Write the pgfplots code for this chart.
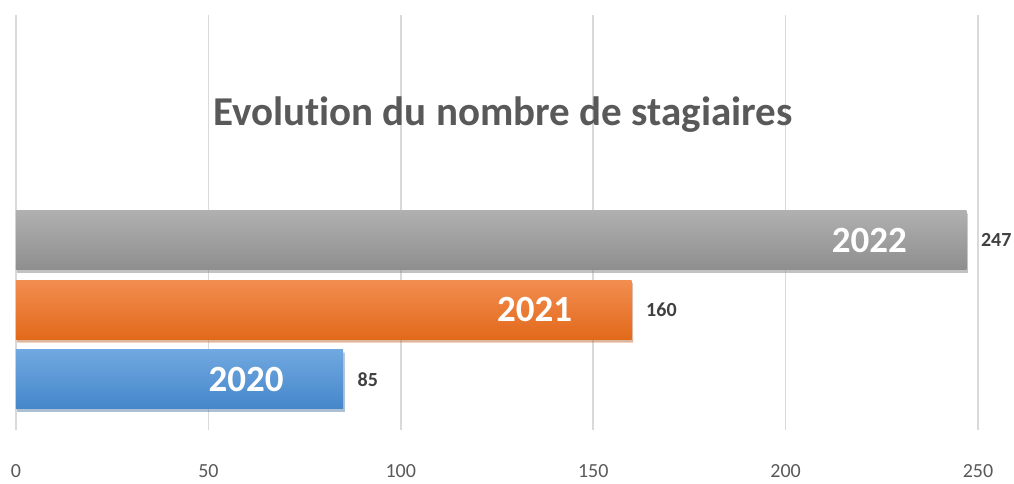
\documentclass[border=0pt]{standalone}
\usepackage{fontspec}
\setmainfont{Carlito}[Ligatures=NoCommon]
\usepackage{pgfplots}
\pgfplotsset{compat=1.18}
\usetikzlibrary{shadows}
\definecolor{gridc}{HTML}{D9D9D9}
\definecolor{titlec}{HTML}{595959}
\definecolor{valc}{HTML}{404040}
\definecolor{tickc}{HTML}{595959}
\definecolor{grayT}{HTML}{B0B0B0}
\definecolor{grayB}{HTML}{8E8E8E}
\definecolor{orT}{HTML}{F28D50}
\definecolor{orB}{HTML}{E2691A}
\definecolor{blT}{HTML}{70A8E0}
\definecolor{blB}{HTML}{4587CA}
\begin{document}
\begin{tikzpicture}
\path[use as bounding box] (0,0) rectangle (1014pt,483pt);
\begin{axis}[
  at={(16pt,53pt)}, anchor=south west,
  scale only axis, width=962pt, height=415pt,
  xmin=0, xmax=250, ymin=-0.73, ymax=5.24,
  axis line style={draw=none},
  xtick={0,50,...,250}, ytick=\empty,
  major tick length=0pt,
  xmajorgrids, grid style={gridc, line width=1.5pt},
  xticklabel style={font=\fontsize{20}{24}\selectfont, text=tickc, yshift=-31pt},
  /pgf/number format/assume math mode=true,
  title={Evolution du nombre de stagiaires},
  title style={at={(0.506,0.745)}, anchor=center, font=\fontsize{41}{48}\selectfont\bfseries, text=titlec},
  clip=false,
]
\addplot[xbar, bar width=59pt, bar shift=0pt, draw=none, top color=blT, bottom color=blB,
  drop shadow={shadow xshift=1.5pt, shadow yshift=-3pt, opacity=0.3}] coordinates {(85,0)};
\addplot[xbar, bar width=59pt, bar shift=0pt, draw=none, top color=orT, bottom color=orB,
  drop shadow={shadow xshift=1.5pt, shadow yshift=-3pt, opacity=0.3}] coordinates {(160,1)};
\addplot[xbar, bar width=59pt, bar shift=0pt, draw=none, top color=grayT, bottom color=grayB,
  drop shadow={shadow xshift=1.5pt, shadow yshift=-3pt, opacity=0.3}] coordinates {(247,2)};
% value labels
\addplot[draw=none, mark=none, nodes near coords, point meta=explicit symbolic,
  every node near coord/.append style={anchor=west, xshift=11pt, font=\fontsize{20}{24}\selectfont\bfseries, text=valc}]
  table[meta=v] {
x y v
85 0 85
160 1 160
247 2 247
};
% year labels
\addplot[draw=none, mark=none, nodes near coords, point meta=explicit symbolic,
  every node near coord/.append style={anchor=east, xshift=-56pt, font=\fontsize{37}{44}\selectfont\bfseries, text=white}]
  table[meta=v] {
x y v
85 0 2020
160 1 2021
247 2 2022
};
\end{axis}
\end{tikzpicture}
\end{document}
